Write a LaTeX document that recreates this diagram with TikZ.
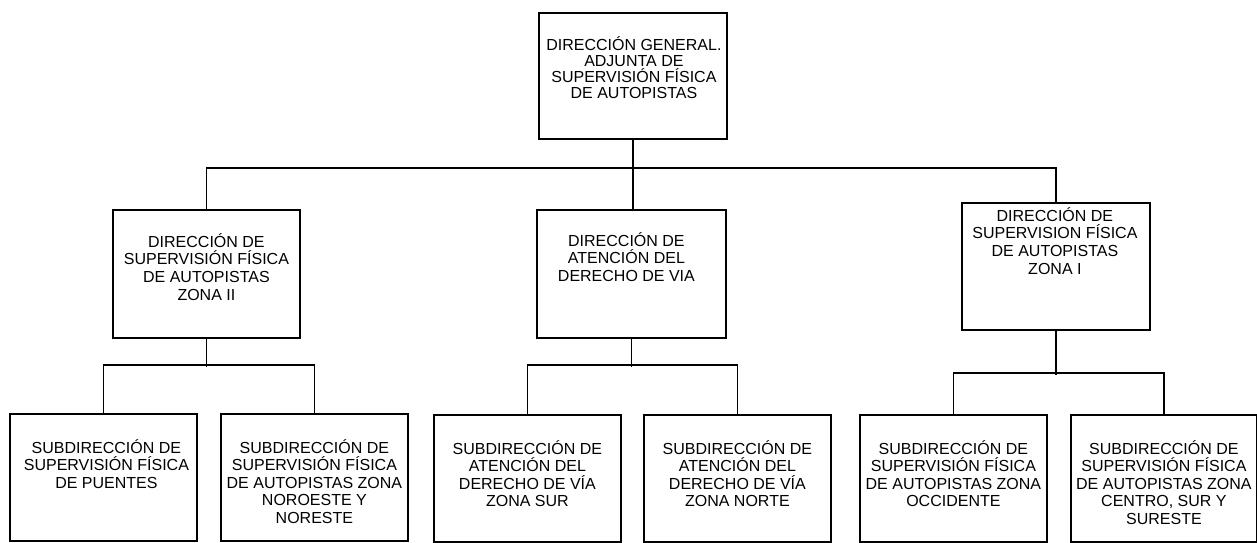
\documentclass[tikz,border=0pt]{standalone}
\usepackage{fontspec}
\setmainfont{Liberation Sans}
\usetikzlibrary{calc}
\newcommand{\boxtext}[2]{\parbox[t]{200pt}{\centering\fontsize{16}{#1}\selectfont #2}}
\tikzset{
  orgbox/.style={draw, line width=1.8pt, minimum width=187pt, minimum height=127pt, inner sep=0pt, anchor=north west},
  conn/.style={line width=1.8pt},
  txt/.style={inner sep=0pt, anchor=base}
}
\begin{document}
\begin{tikzpicture}[x=1pt,y=-1pt]
\useasboundingbox (0,0) rectangle (1257,542);
% boxes
\node[orgbox, minimum width=188pt, minimum height=126pt] (top) at (538,12) {};
\node[orgbox, minimum height=128pt] (dza) at (112,209) {};
\node[orgbox, minimum width=189pt, minimum height=128pt] (ddv) at (536,209) {};
\node[orgbox, minimum width=188pt] (dzb) at (961,202) {};
\node[orgbox] (s1) at (9,413) {};
\node[orgbox] (s2) at (220,413) {};
\node[orgbox] (s3) at (433,414) {};
\node[orgbox] (s4) at (643,414) {};
\node[orgbox] (s5) at (859,414) {};
\node[orgbox, minimum width=186pt] (s6) at (1070,414) {};
% texts
\node[txt] (ttop) at ($(top.north)+(1,38)$) {\boxtext{16.3pt}{DIRECCIÓN GENERAL.\\ADJUNTA DE\\SUPERVISIÓN FÍSICA\\DE AUTOPISTAS}};
\node[txt] (tdza) at ($(dza.north)+(0,38)$) {\boxtext{17.7pt}{DIRECCIÓN DE\\SUPERVISIÓN FÍSICA\\DE AUTOPISTAS\\ZONA II}};
\node[txt] (tddv) at ($(ddv.north)+(-5,37)$) {\boxtext{17.7pt}{DIRECCIÓN DE\\ATENCIÓN DEL\\DERECHO DE VIA}};
\node[txt] (tdzb) at ($(dzb.north)+(-1,19)$) {\boxtext{17.7pt}{DIRECCIÓN DE\\SUPERVISION FÍSICA\\DE AUTOPISTAS\\ZONA I}};
\node[txt] (ts1) at ($(s1.north)+(3,40)$) {\boxtext{17.5pt}{SUBDIRECCIÓN DE\\SUPERVISIÓN FÍSICA\\DE PUENTES}};
\node[txt] (ts2) at ($(s2.north)+(0,40)$) {\boxtext{17.5pt}{SUBDIRECCIÓN DE\\SUPERVISIÓN FÍSICA\\DE AUTOPISTAS ZONA\\NOROESTE Y\\NORESTE}};
\node[txt] (ts3) at ($(s3.north)+(0,40)$) {\boxtext{17.5pt}{SUBDIRECCIÓN DE\\ATENCIÓN DEL\\DERECHO DE VÍA\\ZONA SUR}};
\node[txt] (ts4) at ($(s4.north)+(0,40)$) {\boxtext{17.5pt}{SUBDIRECCIÓN DE\\ATENCIÓN DEL\\DERECHO DE VÍA\\ZONA NORTE}};
\node[txt] (ts5) at ($(s5.north)+(0,40)$) {\boxtext{17.5pt}{SUBDIRECCIÓN DE\\SUPERVISIÓN FÍSICA\\DE AUTOPISTAS ZONA\\OCCIDENTE}};
\node[txt] (ts6) at ($(s6.north)+(0,40)$) {\boxtext{17.5pt}{SUBDIRECCIÓN DE\\SUPERVISIÓN FÍSICA\\DE AUTOPISTAS ZONA\\CENTRO, SUR Y\\SURESTE}};
% connectors
\draw[conn] (top.south) -- (top.south |- ddv.north);
\draw[conn] (dza.north) -- ++(0,-41) -| (dzb.north);
\draw[conn] (dza.south) -- ++(0,28);
\draw[conn] (s1.north) -- ++(0,-48) -| (s2.north);
\draw[conn] (ddv.south) -- ++(0,28);
\draw[conn] (s3.north) -- ++(0,-49) -| (s4.north);
\draw[conn] (dzb.south) -- ++(0,44);
\draw[conn] (s5.north) -- ++(0,-41) -| (s6.north);
\end{tikzpicture}
\end{document}
